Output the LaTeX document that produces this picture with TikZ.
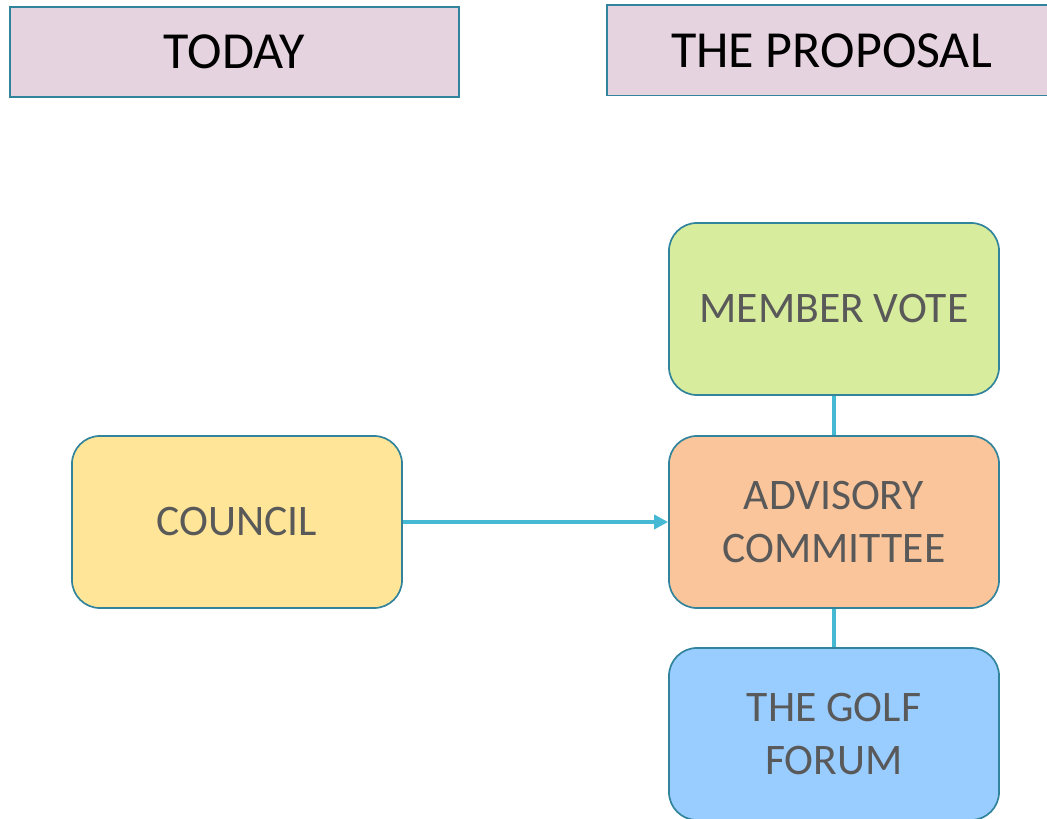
\documentclass[tikz,border=0pt]{standalone}
\usepackage{fontspec}
\setmainfont{Carlito}
\usetikzlibrary{arrows.meta, positioning}

\definecolor{headfill}{HTML}{E6D3E0}
\definecolor{edgeteal}{HTML}{31849B}
\definecolor{linkblue}{HTML}{45B8D4}
\definecolor{textgrey}{HTML}{595959}
\definecolor{votegreen}{HTML}{D7EC9C}
\definecolor{advpeach}{HTML}{FAC59A}
\definecolor{councilyellow}{HTML}{FFE597}
\definecolor{forumblue}{HTML}{99CCFF}

\begin{document}
\begin{tikzpicture}[
		x=0.025cm, y=-0.025cm,
		header/.style={draw=edgeteal, line width=1.4pt, fill=headfill, minimum width=11.225cm, minimum height=2.25cm, font=\fontsize{37}{44}\selectfont, text=black},
		box/.style={draw=edgeteal, line width=1.2pt, rounded corners=0.7cm, minimum width=8.25cm, minimum height=4.3cm, align=center, font=\fontsize{31}{37}\selectfont, text=textgrey},
		link/.style={linkblue, line width=2.8pt},
		arrow/.style={-{Triangle[length=10pt, width=10pt]}, linkblue, line width=2.8pt}
	]
	
		\useasboundingbox (0,0) rectangle (1047,819);
		\clip (0,0) rectangle (1047,819);
	
		% Nodes
		\node[header] (today) at (234.5,52) {TODAY};
		\node[header] (proposal) at (831.5,50.5) {THE PROPOSAL};
		\node[box, fill=councilyellow] (council) at (237,522) {COUNCIL};
		\node[box, fill=votegreen] (vote) at (834,309) {MEMBER VOTE};
		\node[box, fill=advpeach] (advisory) at (834,522) {ADVISORY\\COMMITTEE};
		\node[box, fill=forumblue] (forum) at (834,734) {THE GOLF\\FORUM};
		
		% Arrows
		\draw[arrow] (council) -- (advisory);
		\draw[link] (vote) -- (advisory);
		\draw[link] (advisory) -- (forum);
		
	\end{tikzpicture}
\end{document}
